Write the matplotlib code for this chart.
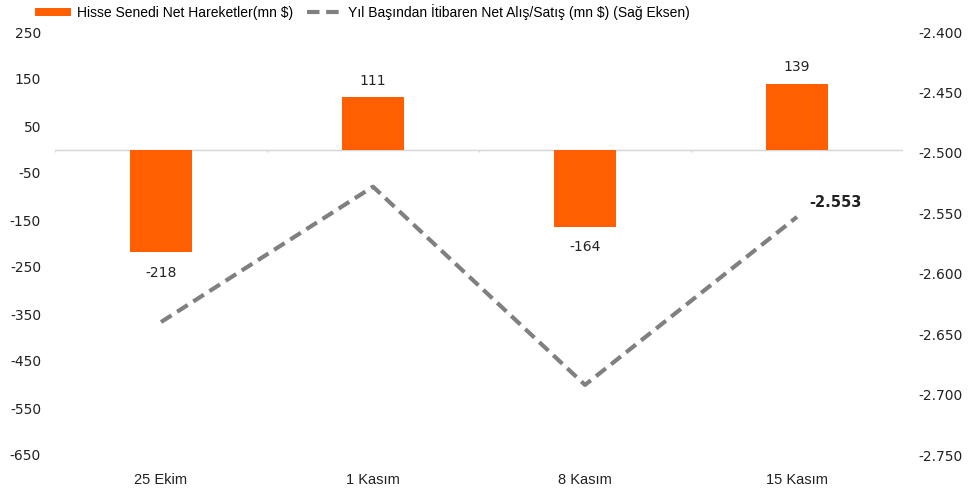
import numpy as np
import matplotlib
matplotlib.use('Agg')
import matplotlib.pyplot as plt
from matplotlib.ticker import FuncFormatter

plt.rcParams['axes.unicode_minus'] = False

# data
dates = ['25 Ekim', '1 Kasım', '8 Kasım', '15 Kasım']
net_flows = [-218, 111, -164, 139]            # mn $
ytd_total = [-2640, -2528, -2692, -2553]      # mn $, right axis

BAR_COLOR = '#FF5F00'
LINE_COLOR = '#808080'
NARROW = ['Liberation Sans', 'DejaVu Sans']

def tr_fmt(v, pos=None):
	return '{:,.0f}'.format(v).replace(',', '.')

fig = plt.figure(figsize=(9.73, 4.93), dpi=100)
ax = fig.add_axes([55 / 973, 1 - 455 / 493, 848 / 973, 423 / 493])
ax2 = ax.twinx()

x = np.arange(len(dates))
bars = ax.bar(x, net_flows, width=0.29, color=BAR_COLOR, zorder=2,
	label='Hisse Senedi Net Hareketler(mn $)')
line, = ax2.plot(x, ytd_total, color=LINE_COLOR, lw=3, dashes=(3, 1.6),
	label='Yıl Başından İtibaren Net Alış/Satış (mn $) (Sağ Eksen)')

ax.set_xlim(-0.5, len(dates) - 0.5)
ax.set_ylim(-650, 250)
ax.set_yticks(np.arange(250, -651, -100))
ax2.set_ylim(-2750, -2400)
ax2.set_yticks(np.arange(-2400, -2751, -50))
ax2.yaxis.set_major_formatter(FuncFormatter(tr_fmt))

for a in (ax, ax2):
	for s in a.spines.values():
		s.set_visible(False)
	a.tick_params(length=0, labelsize=10, colors='#222222')
ax.tick_params(axis='y', pad=10)
ax2.tick_params(axis='y', pad=11)
ax.tick_params(axis='x', pad=13)
ax.set_xticks(x)
ax.set_xticklabels(dates, family=NARROW, fontsize=10.5)

# zero line with category separators
ax.axhline(0, color='#d6d6d6', lw=1, zorder=1)
bounds = np.arange(len(dates) + 1) - 0.5
ax.vlines(bounds, -6, 0, color='#d6d6d6', lw=1, zorder=1)

# bar labels
for xi, v in zip(x, net_flows):
	off = 7 if v > 0 else -10
	ax.annotate(str(v), (xi, v), xytext=(0, off), textcoords='offset points',
		ha='center', va='bottom' if v > 0 else 'top', fontsize=10, color='#222222')

# last point label
ax2.annotate(tr_fmt(ytd_total[-1]), (x[-1], ytd_total[-1]), xytext=(28, 5),
	textcoords='offset points', ha='center', va='bottom', fontsize=10.5,
	fontweight='bold', color='#222222')

fig.legend(handles=[bars, line], loc='center left', bbox_to_anchor=(35 / 973, 1 - 12 / 493),
	ncol=2, frameon=False, prop={'family': NARROW, 'size': 10},
	handlelength=2.6, handleheight=0.55, columnspacing=1.0, handletextpad=0.4,
	borderpad=0, borderaxespad=0)

fig.savefig('out.png', dpi=100)
